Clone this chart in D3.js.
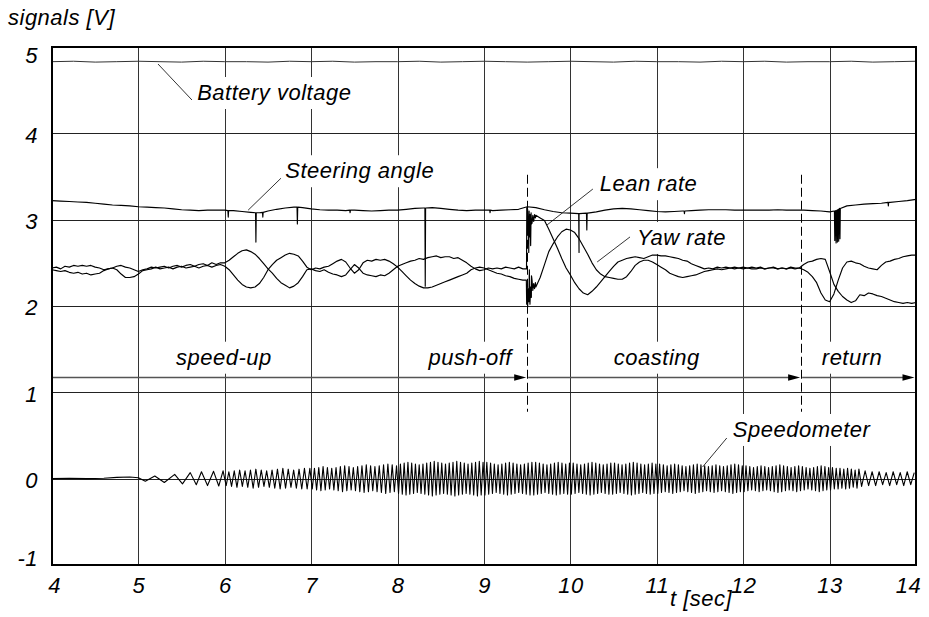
<!DOCTYPE html>
<html>
<head>
<meta charset="utf-8">
<script src="https://cdn.jsdelivr.net/npm/d3@7"></script>
<style>
  body { margin: 0; background: #fff; }
  svg text {
    font-family: "Liberation Sans", Arial, Helvetica, sans-serif;
    font-style: italic;
    font-size: 22px;
    letter-spacing: 0.5px;
    fill: #000;
  }
</style>
</head>
<body>
<svg id="chart" width="929" height="617"></svg>
<script>
// axis ticks
const xTicks = [4, 5, 6, 7, 8, 9, 10, 11, 12, 13, 14]
const yTicks = [-1, 0, 1, 2, 3, 4, 5]

// battery voltage [V], one sample every 0.25 s from t = 4
const batteryT0 = 4, batteryDt = 0.25
const battery = [
  4.83, 4.835, 4.825, 4.83, 4.835, 4.83, 4.825, 4.835, 4.83, 4.83,
  4.825, 4.835, 4.83, 4.835, 4.825, 4.83, 4.83, 4.835, 4.825, 4.83,
  4.835, 4.83, 4.825, 4.83, 4.835, 4.83, 4.825, 4.835, 4.83, 4.83,
  4.825, 4.835, 4.83, 4.835, 4.825, 4.83, 4.83, 4.835, 4.825, 4.83, 4.835
]

// steering angle [V], one sample every 0.1 s from t = 4
const steerT0 = 4, steerDt = 0.1
const steering = [
  3.22, 3.215, 3.21, 3.205, 3.20, 3.19, 3.18, 3.17, 3.165, 3.16,
  3.15, 3.145, 3.14, 3.135, 3.125, 3.115, 3.11, 3.105, 3.11, 3.11,
  3.11, 3.105, 3.095, 3.085, 3.08, 3.10, 3.12, 3.135, 3.145, 3.14,
  3.125, 3.115, 3.11, 3.11, 3.105, 3.11, 3.105, 3.10, 3.105, 3.11,
  3.11, 3.12, 3.13, 3.135, 3.14, 3.13, 3.12, 3.11, 3.105, 3.11,
  3.11, 3.105, 3.11, 3.115, 3.12, 3.15, 3.14, 3.115, 3.095, 3.08,
  3.075, 3.07, 3.075, 3.09, 3.11, 3.125, 3.13, 3.125, 3.115, 3.105,
  3.095, 3.09, 3.095, 3.10, 3.105, 3.11, 3.115, 3.115, 3.115, 3.11,
  3.11, 3.11, 3.11, 3.11, 3.115, 3.11, 3.11, 3.11, 3.105, 3.10,
  3.09, 3.12, 3.16, 3.17, 3.18, 3.185, 3.19, 3.20, 3.21, 3.22, 3.235
]
// steering spikes: [t, level before, lowest value]
const steerSpikes = [
  [6.04, 3.105, 3.03], [6.36, 3.08, 2.74], [6.44, 3.085, 3.03], [6.84, 3.145, 2.95],
  [7.45, 3.11, 3.08], [8.32, 3.135, 2.23], [9.07, 3.11, 3.08], [10.10, 3.07, 2.62],
  [10.19, 3.075, 2.88], [11.32, 3.10, 3.07], [13.06, 3.10, 2.76], [13.075, 3.105, 2.73],
  [13.09, 3.11, 2.74], [13.105, 3.12, 2.75], [13.12, 3.13, 2.78], [13.68, 3.20, 3.16]
]

// lean rate and yaw rate [V], one sample every 0.05 s from t = 4
const rateT0 = 4, rateDt = 0.05
const leanRate = [
  2.44, 2.45, 2.43, 2.46, 2.45, 2.47, 2.46, 2.47, 2.46, 2.47, 2.45, 2.44, 2.42, 2.43, 2.44, 2.46, 2.47, 2.45, 2.44, 2.42,
  2.40, 2.42, 2.43, 2.45, 2.44, 2.45, 2.46, 2.44, 2.46, 2.47, 2.45, 2.47, 2.48, 2.46, 2.48, 2.49, 2.47, 2.50, 2.48, 2.50,
  2.50, 2.53, 2.57, 2.61, 2.64, 2.65, 2.63, 2.60, 2.55, 2.49, 2.43, 2.38, 2.32, 2.27, 2.24, 2.21, 2.23, 2.27, 2.34, 2.42,
  2.43, 2.41, 2.40, 2.42, 2.39, 2.37, 2.36, 2.34, 2.36, 2.42, 2.48, 2.44, 2.38, 2.36, 2.35, 2.34, 2.36, 2.35, 2.38, 2.42,
  2.46, 2.48, 2.50, 2.52, 2.53, 2.55, 2.54, 2.56, 2.57, 2.58, 2.56, 2.57, 2.57, 2.55, 2.56, 2.53, 2.50, 2.46, 2.43, 2.41,
  2.42, 2.44, 2.43, 2.44, 2.43, 2.45, 2.44, 2.43, 2.45, 2.43, 3.12, 2.95, 3.05, 3.02, 2.99, 2.89, 2.78, 2.67, 2.55, 2.44,
  2.36, 2.27, 2.20, 2.15, 2.13, 2.17, 2.22, 2.28, 2.34, 2.40, 2.46, 2.51, 2.53, 2.55, 2.56, 2.57, 2.56, 2.55, 2.57, 2.59,
  2.59, 2.58, 2.58, 2.57, 2.56, 2.55, 2.53, 2.52, 2.49, 2.47, 2.45, 2.43, 2.44, 2.43, 2.45, 2.44, 2.45, 2.44, 2.45, 2.44,
  2.45, 2.44, 2.45, 2.44, 2.45, 2.43, 2.44, 2.45, 2.43, 2.44, 2.43, 2.45, 2.44, 2.44, 2.48, 2.51, 2.52, 2.54, 2.55, 2.54,
  2.40, 2.25, 2.17, 2.11, 2.07, 2.04, 2.06, 2.13, 2.12, 2.15, 2.14, 2.12, 2.11, 2.09, 2.07, 2.05, 2.04, 2.03, 2.04, 2.03, 2.04
]
const yawRate = [
  2.42, 2.41, 2.40, 2.41, 2.39, 2.38, 2.39, 2.37, 2.38, 2.36, 2.37, 2.38, 2.41, 2.43, 2.44, 2.42, 2.37, 2.33, 2.33, 2.34,
  2.37, 2.41, 2.42, 2.43, 2.45, 2.43, 2.44, 2.45, 2.43, 2.45, 2.46, 2.44, 2.45, 2.46, 2.44, 2.46, 2.47, 2.45, 2.47, 2.48,
  2.46, 2.42, 2.36, 2.30, 2.25, 2.22, 2.21, 2.22, 2.26, 2.33, 2.42, 2.48, 2.53, 2.56, 2.59, 2.61, 2.60, 2.58, 2.52, 2.45,
  2.42, 2.44, 2.43, 2.45, 2.46, 2.49, 2.52, 2.54, 2.51, 2.44, 2.38, 2.42, 2.50, 2.53, 2.52, 2.54, 2.53, 2.54, 2.52, 2.49,
  2.45, 2.40, 2.35, 2.30, 2.26, 2.23, 2.21, 2.21, 2.22, 2.24, 2.26, 2.28, 2.30, 2.32, 2.34, 2.36, 2.38, 2.42, 2.44, 2.45,
  2.44, 2.42, 2.40, 2.38, 2.37, 2.35, 2.34, 2.32, 2.31, 2.30, 2.05, 2.35, 2.22, 2.33, 2.48, 2.63, 2.72, 2.80, 2.86, 2.89,
  2.88, 2.85, 2.78, 2.69, 2.60, 2.50, 2.42, 2.37, 2.34, 2.33, 2.32, 2.31, 2.31, 2.34, 2.40, 2.47, 2.51, 2.53, 2.53, 2.51,
  2.48, 2.45, 2.42, 2.38, 2.36, 2.34, 2.33, 2.34, 2.35, 2.36, 2.38, 2.40, 2.41, 2.42, 2.43, 2.42, 2.43, 2.44, 2.43, 2.44,
  2.43, 2.44, 2.43, 2.43, 2.44, 2.43, 2.44, 2.44, 2.43, 2.44, 2.43, 2.44, 2.43, 2.44, 2.42, 2.39, 2.34, 2.27, 2.15, 2.07,
  2.05, 2.14, 2.30, 2.44, 2.51, 2.52, 2.50, 2.49, 2.46, 2.44, 2.43, 2.42, 2.47, 2.51, 2.52, 2.54, 2.55, 2.57, 2.58, 2.59, 2.59
]
// fine samples at the push-off kick: [t, V]
const leanKick = [
  [9.492, 2.43], [9.495, 3.14], [9.500, 2.86], [9.505, 3.12], [9.512, 2.95], [9.518, 2.62],
  [9.522, 3.10], [9.528, 2.80], [9.533, 3.06], [9.540, 2.70], [9.545, 3.08], [9.556, 2.96],
  [9.565, 3.05], [9.575, 2.98], [9.585, 3.06], [9.595, 3.02]
]
const yawKick = [
  [9.490, 2.30], [9.494, 2.02], [9.500, 2.25], [9.505, 1.99], [9.512, 2.20], [9.518, 2.05],
  [9.525, 2.42], [9.532, 2.02], [9.540, 2.22], [9.548, 2.10], [9.556, 2.30], [9.565, 2.18],
  [9.575, 2.26], [9.585, 2.20], [9.595, 2.27]
]

// speedometer: slow start as [t, V] extrema, then cycles per segment (one amplitude per cycle)
const speedoLead = [
  [4.0, 0.0], [4.2, 0.005], [4.4, 0.0], [4.6, 0.005], [4.75, 0.015], [4.9, 0.02], [5.0, 0.01],
  [5.08, -0.03], [5.19, 0.03], [5.3, -0.045], [5.42, 0.05], [5.51, -0.06], [5.6, 0.07],
  [5.67, -0.07], [5.73, 0.08], [5.8, -0.08], [5.87, 0.085], [5.93, -0.085], [5.98, 0.09]
]
const speedoSegStart = [6, 7, 8, 9, 10, 11, 12, 13, 13.35]
const speedoSegEnd = [7, 8, 9, 10, 11, 12, 13, 13.35, 14]
const speedoAmps = [
  [0.08, 0.09, 0.10, 0.09, 0.10, 0.11, 0.10, 0.09, 0.10, 0.11, 0.12, 0.11, 0.10, 0.11, 0.12, 0.12],
  [0.12, 0.13, 0.14, 0.13, 0.12, 0.13, 0.14, 0.15, 0.14, 0.13, 0.14, 0.15, 0.16, 0.15, 0.14, 0.15, 0.16, 0.17, 0.16, 0.15],
  [0.17, 0.18, 0.19, 0.18, 0.17, 0.16, 0.17, 0.18, 0.19, 0.20, 0.19, 0.18, 0.17, 0.18, 0.19, 0.20, 0.19, 0.18, 0.17, 0.18, 0.19, 0.20, 0.19],
  [0.19, 0.18, 0.17, 0.16, 0.17, 0.18, 0.19, 0.18, 0.17, 0.16, 0.17, 0.18, 0.19, 0.19, 0.18, 0.17, 0.16, 0.17, 0.18, 0.19, 0.18, 0.17, 0.18],
  [0.18, 0.17, 0.16, 0.17, 0.18, 0.19, 0.18, 0.17, 0.16, 0.17, 0.18, 0.18, 0.17, 0.16, 0.17, 0.18, 0.19, 0.18, 0.17, 0.16, 0.17, 0.18, 0.17],
  [0.17, 0.16, 0.15, 0.16, 0.17, 0.16, 0.15, 0.14, 0.15, 0.16, 0.17, 0.16, 0.15, 0.14, 0.15, 0.16, 0.15, 0.14, 0.15, 0.16, 0.17, 0.16, 0.15],
  [0.15, 0.14, 0.13, 0.14, 0.15, 0.14, 0.13, 0.14, 0.15, 0.16, 0.15, 0.14, 0.13, 0.14, 0.15, 0.14, 0.13, 0.12, 0.13, 0.14, 0.15, 0.14, 0.13],
  [0.13, 0.12, 0.12, 0.11, 0.12, 0.11, 0.10, 0.11],
  [0.09, 0.08, 0.08, 0.07, 0.08, 0.07, 0.08, 0.07]
]

// test phases: boundaries between the three arrows, label positions [t]
const phaseNames = ["speed-up", "push-off", "coasting", "return"]
const phaseBounds = [4, 9.494, 12.665, 14]
const phaseLabelT = [5.99, 8.84, 11.0, 13.26]

// trace labels: text anchor [t, V], leader from [t, V] to [t, V]
const labelNames = ["Battery voltage", "Steering angle", "Lean rate", "Yaw rate", "Speedometer"]
const labelAt = [[5.68, 4.386], [6.70, 3.48], [10.34, 3.33], [10.77, 2.707], [11.88, 0.483]]
const leaderFrom = [[5.62, 4.386], [6.65, 3.48], [10.26, 3.355], [10.69, 2.80], [11.81, 0.471]]
const leaderTo = [[5.227, 4.803], [6.27, 3.11], [9.73, 2.939], [10.31, 2.51], [11.53, 0.135]]

const svg = d3.select("#chart")
const x = d3.scaleLinear().domain([4, 14]).range([52, 916])
const y = d3.scaleLinear().domain([-1, 5]).range([565, 47])
const crisp = v => Math.round(v) + 0.5

const gGrid = svg.append("g").attr("class", "grid")
const gBox = svg.append("g").attr("class", "boxes")
const gData = svg.append("g").attr("class", "traces")
const gNote = svg.append("g").attr("class", "notes")
const gText = svg.append("g").attr("class", "labels")

// grid
gGrid.selectAll("line.vgrid")
  .data(xTicks.slice(1, -1))
  .join("line")
    .attr("class", "vgrid")
    .attr("x1", d => crisp(x(d))).attr("x2", d => crisp(x(d)))
    .attr("y1", y(5)).attr("y2", y(-1))
    .attr("stroke", "#333").attr("stroke-width", 1)
gGrid.selectAll("line.hgrid")
  .data(yTicks.slice(1, -1))
  .join("line")
    .attr("class", "hgrid")
    .attr("x1", x(4)).attr("x2", x(14))
    .attr("y1", d => crisp(y(d))).attr("y2", d => crisp(y(d)))
    .attr("stroke", "#222").attr("stroke-width", 1)

// axes labels
const yAxis = svg.append("g")
  .attr("transform", `translate(${x(4)},0)`)
  .call(d3.axisLeft(y).tickValues(yTicks).tickSize(0).tickPadding(14).tickFormat(d => String(d)))
yAxis.select(".domain").remove()
yAxis.selectAll(".tick line").remove()
yAxis.selectAll("text")
  .attr("dy", d => d === 5 ? "0.7em" : d === -1 ? "0em" : "0.4em")

const xAxis = svg.append("g")
  .attr("transform", `translate(0,${y(-1)})`)
  .call(d3.axisBottom(x).tickValues(xTicks).tickSize(0).tickPadding(12).tickFormat(d => String(d)))
xAxis.select(".domain").remove()
xAxis.selectAll(".tick line").remove()
xAxis.selectAll("text")
  .attr("dx", d => d === 14 ? -8 : d === 4 ? 2 : 0)

gText.append("text").attr("x", 8).attr("y", 25).text("signals [V]")
gText.append("text").attr("x", 670).attr("y", 606).text("t [sec]")

// build the traces
const samples = (t0, dt, vals) => vals.map((v, i) => [t0 + i * dt, v])
const byT = (a, b) => a[0] - b[0]

const batteryPts = samples(batteryT0, batteryDt, battery)

const steerPts = samples(steerT0, steerDt, steering)
steerSpikes.forEach(([t, base, low]) => {
  steerPts.push([t - 0.004, base], [t, low], [t + 0.004, base])
})
steerPts.sort(byT)

const leanPts = samples(rateT0, rateDt, leanRate).concat(leanKick).sort(byT)
const yawPts = samples(rateT0, rateDt, yawRate).concat(yawKick).sort(byT)

const speedoPts = speedoLead.slice()
speedoAmps.forEach((amps, s) => {
  const d = (speedoSegEnd[s] - speedoSegStart[s]) / amps.length
  amps.forEach((a, k) => {
    speedoPts.push([speedoSegStart[s] + (k + 0.25) * d, -a])
    speedoPts.push([speedoSegStart[s] + (k + 0.75) * d, a])
  })
})

const line = d3.line().x(d => x(d[0])).y(d => y(d[1]))

// label text with white backing box
function boxedLabel(name, px, py, anchor) {
  const t = gText.append("text")
    .attr("x", px).attr("y", py)
    .attr("text-anchor", anchor)
    .text(name)
  const b = t.node().getBBox()
  gBox.append("rect")
    .attr("x", b.x - 3).attr("y", b.y - 3)
    .attr("width", b.width + 6).attr("height", b.height + 7)
    .attr("fill", "#fff")
}
labelNames.forEach((name, i) => boxedLabel(name, x(labelAt[i][0]), y(labelAt[i][1]), "start"))
phaseNames.forEach((name, i) => boxedLabel(name, x(phaseLabelT[i]), y(1.32), "middle"))

const traces = [batteryPts, steerPts, leanPts, yawPts, speedoPts]
gData.selectAll("path.trace")
  .data(traces)
  .join("path")
    .attr("class", "trace")
    .attr("d", line)
    .attr("fill", "none")
    .attr("stroke", (d, i) => i === 0 ? "#333" : "#000")
    .attr("stroke-width", (d, i) => i === 0 ? 1 : i === 4 ? 1.1 : 1.15)
    .attr("stroke-linejoin", "round")

// leader lines
gNote.selectAll("line.leader")
  .data(labelNames)
  .join("line")
    .attr("class", "leader")
    .attr("x1", (d, i) => x(leaderFrom[i][0])).attr("y1", (d, i) => y(leaderFrom[i][1]))
    .attr("x2", (d, i) => x(leaderTo[i][0])).attr("y2", (d, i) => y(leaderTo[i][1]))
    .attr("stroke", "#000").attr("stroke-width", 0.8)

// phase boundaries
gNote.selectAll("line.bound")
  .data(phaseBounds.slice(1, -1))
  .join("line")
    .attr("class", "bound")
    .attr("x1", d => crisp(x(d))).attr("x2", d => crisp(x(d)))
    .attr("y1", y(3.52)).attr("y2", y(0.775))
    .attr("stroke", "#000").attr("stroke-width", 1)
    .attr("stroke-dasharray", "9,4")

// phase arrows, one per interval between boundaries
const arrowY = y(1.172)
const arrows = d3.pairs(phaseBounds).map(([a, b], i, all) => ({
  from: x(a) + (i === 0 ? 1 : 1.5),
  tip: x(b) - (i === all.length - 1 ? 1.5 : 0.5)
}))
gNote.selectAll("line.arrow")
  .data(arrows)
  .join("line")
    .attr("class", "arrow")
    .attr("x1", d => d.from).attr("x2", d => d.tip - 6)
    .attr("y1", arrowY).attr("y2", arrowY)
    .attr("stroke", "#555").attr("stroke-width", 1.4)
gNote.selectAll("path.head")
  .data(arrows)
  .join("path")
    .attr("class", "head")
    .attr("d", d => `M${d.tip},${arrowY}L${d.tip - 12},${arrowY - 3.2}L${d.tip - 12},${arrowY + 3.2}Z`)
    .attr("fill", "#000")

// frame
svg.append("rect")
  .attr("x", x(4)).attr("y", y(5))
  .attr("width", x(14) - x(4)).attr("height", y(-1) - y(5))
  .attr("fill", "none").attr("stroke", "#000").attr("stroke-width", 2)
</script>
</body>
</html>
